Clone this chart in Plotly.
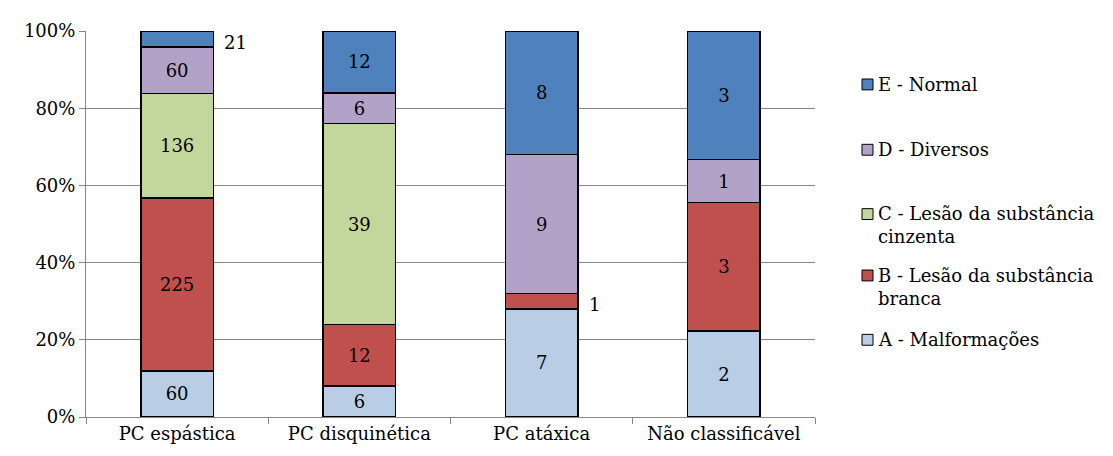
import plotly.graph_objects as go

categories = ["PC espástica", "PC disquinética", "PC atáxica", "Não classificável"]
series_names = ["A - Malformações", "B - Lesão da substância<br>branca",
                "C - Lesão da substância<br>cinzenta", "D - Diversos", "E - Normal"]
A_vals = [60, 6, 7, 2]
B_vals = [225, 12, 1, 3]
C_vals = [136, 39, 0, 0]
D_vals = [60, 6, 9, 1]
E_vals = [21, 12, 8, 3]
colors = ["#B9CDE5", "#C0504D", "#C3D69B", "#B3A2C7", "#4F81BD"]
y_ticks = [0, 20, 40, 60, 80, 100]
y_ticktext = ["0%", "20%", "40%", "60%", "80%", "100%"]

all_vals = [A_vals, B_vals, C_vals, D_vals, E_vals]
totals = [sum(v[i] for v in all_vals) for i in range(len(categories))]

# labels drawn outside the bar (series index, category index)
outside = [(4, 0), (1, 2)]

FONT = "DejaVu Serif"
FS = 18
OFF = 8  # page body margin
W, H = 1113 - OFF, 456 - OFF
plot_l, plot_r, plot_t, plot_b = 86 - OFF, 815 - OFF, 28 - OFF, 418 - OFF
pw, ph = plot_r - plot_l, plot_b - plot_t

fig = go.Figure()
for s, (vals, col) in enumerate(zip(all_vals, colors)):
    txt = ["" if (v == 0 or (s, i) in outside) else str(v) for i, v in enumerate(vals)]
    fig.add_trace(go.Bar(
        x=categories, y=vals, name=series_names[s],
        marker=dict(color=col, line=dict(color="black", width=1.5)),
        text=txt, textposition="inside", insidetextanchor="middle",
        textangle=0, textfont=dict(family=FONT, size=FS, color="black"),
        showlegend=False, hoverinfo="skip",
    ))

annotations = []
for (s, i) in outside:
    below = sum(all_vals[k][i] for k in range(s))
    mid = (below + all_vals[s][i] / 2) / totals[i] * 100
    annotations.append(dict(x=categories[i], y=mid, xref="x", yref="y",
                            text=str(all_vals[s][i]), showarrow=False,
                            xanchor="left", xshift=45, yshift=-3,
                            font=dict(family=FONT, size=FS, color="black")))

# manual legend (E at top), positions in reference page pixels
legend_y = [82, 148, 213, 275, 340]
shapes = []
for k, s in enumerate([4, 3, 2, 1, 0]):
    yc = legend_y[k] - OFF
    shapes.append(dict(type="rect", xref="paper", yref="paper",
                       x0=(862 - OFF - plot_l) / pw, x1=(873 - OFF - plot_l) / pw,
                       y0=(plot_b - (yc + 5.5)) / ph, y1=(plot_b - (yc - 5.5)) / ph,
                       line=dict(color="black", width=1), fillcolor=colors[s]))
    annotations.append(dict(x=(876 - OFF - plot_l) / pw, y=(plot_b - (yc - 13)) / ph,
                            xref="paper", yref="paper",
                            text=series_names[s], showarrow=False, align="left",
                            xanchor="left", yanchor="top",
                            font=dict(family=FONT, size=FS, color="black")))

fig.update_layout(
    barmode="stack", barnorm="percent", bargap=0.603,
    width=W, height=H,
    margin=dict(l=plot_l, r=W - plot_r, t=plot_t, b=H - plot_b),
    plot_bgcolor="white", paper_bgcolor="white",
    font=dict(family=FONT, size=FS, color="black"),
    uniformtext=dict(minsize=FS, mode="show"),
    annotations=annotations, shapes=shapes,
    xaxis=dict(showline=True, linecolor="#868686", linewidth=1,
               ticks="outside", tickson="boundaries", ticklen=6, tickcolor="#868686",
               tickfont=dict(family=FONT, size=FS, color="black"), showgrid=False),
    yaxis=dict(range=[0, 100], tickvals=y_ticks, ticktext=y_ticktext,
               showline=True, linecolor="#868686", linewidth=1,
               ticks="outside", ticklen=6, tickcolor="#868686",
               showgrid=True, gridcolor="#868686", gridwidth=1,
               tickfont=dict(family=FONT, size=FS, color="black"), zeroline=False),
)

fig.write_html("out.html")
